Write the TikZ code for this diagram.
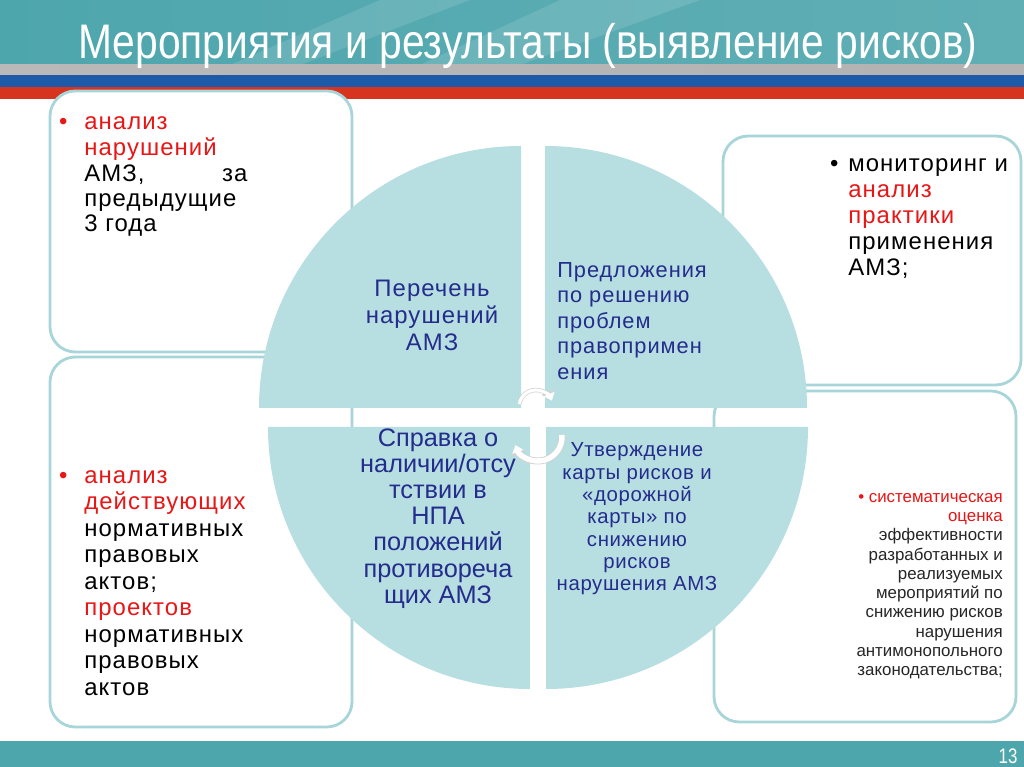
\documentclass[tikz,border=0pt]{standalone}
\usepackage{fontspec}
\setmainfont{Liberation Sans}
\newfontfamily\trk[LetterSpace=4.5]{Liberation Sans}
\newfontfamily\trklight[LetterSpace=3]{Liberation Sans}
\usetikzlibrary{arrows.meta}

\definecolor{quadfill}{RGB}{183,222,225}
\definecolor{boxline}{RGB}{168,213,217}
\definecolor{qblue}{RGB}{36,44,140}
\definecolor{hot}{RGB}{232,22,22}
\definecolor{tealdark}{RGB}{78,166,173}
\definecolor{teallight}{RGB}{170,219,222}
\definecolor{flagblue}{RGB}{30,90,170}
\definecolor{flagred}{RGB}{214,52,30}

\tikzset{
  infobox/.style={draw=boxline, line width=2pt, fill=white, rounded corners=18pt},
  quarter/.style={fill=quadfill},
  qlabel/.style={text=qblue, inner sep=0pt},
  boxtext/.style={inner sep=0pt, align=left, anchor=north west},
  cycarrow/.style={draw=white, -{Triangle[width=8pt,length=5pt]}},
  cycshadow/.style={draw=gray!35, -{Triangle[width=10pt,length=6.5pt]}},
}

\begin{document}
\begin{tikzpicture}[x=0.025cm, y=0.025cm]
    \useasboundingbox (0,0) rectangle (1024,767);

    % header and footer
    \shade[left color=tealdark, middle color=teallight, right color=tealdark!90] (0,702) rectangle (1024,767);
    \fill[white, opacity=0.12] (380,767) -- (470,767) -- (300,702) -- (230,702) -- cycle;
    \fill[white, opacity=0.12] (560,767) -- (700,767) -- (520,702) -- (420,702) -- cycle;
    \shade[left color=gray!55, middle color=gray!15, right color=gray!60] (0,691) rectangle (1024,702);
    \shade[left color=flagblue, middle color=flagblue!70!white, right color=flagblue] (0,679) rectangle (1024,691);
    \shade[left color=flagred, middle color=flagred!75!white, right color=flagred] (0,668) rectangle (1024,679);
    \shade[left color=tealdark, middle color=teallight, right color=tealdark] (0,0) rectangle (1024,25);

    \node[text=white, font=\fontsize{34.5}{40}\selectfont] (title) at (528,721)
        {\scalebox{0.84}[1]{Мероприятия и результаты (выявление рисков)}};
    \node[text=white, font=\fontsize{15}{16}\selectfont] (pagenum) at (1008,11) {\scalebox{0.8}[1]{13}};

    % side boxes
    \draw[infobox] (50,415) rectangle (352,676);
    \draw[infobox] (50,40) rectangle (352,410);
    \draw[infobox] (723,382) rectangle (1021,631);
    \draw[infobox] (714,45) rectangle (1016,376);

    % circle in four quarters
    \fill[quarter] (521,359) -- ++(-262,0) arc[start angle=180, end angle=90, radius=262] -- cycle;
    \fill[quarter] (545,359) -- ++(0,262) arc[start angle=90, end angle=0, radius=262] -- cycle;
    \fill[quarter] (530,340) -- ++(-262,0) arc[start angle=180, end angle=270, radius=262] -- cycle;
    \fill[quarter] (546,340) -- ++(262,0) arc[start angle=0, end angle=-90, radius=262] -- cycle;

    \coordinate (hubtop) at (536,360);
    \coordinate (hubbot) at (538,330);
    \draw[cycshadow, line width=3.2pt] (hubtop) ++(170:17) arc[start angle=170, end angle=22, radius=17];
    \draw[cycarrow, line width=2.2pt] (hubtop) ++(170:17) arc[start angle=170, end angle=22, radius=17];
    \draw[cycshadow, line width=5pt] (hubbot) ++(5:24) arc[start angle=5, end angle=-160, radius=24];
    \draw[cycarrow, line width=3.8pt] (hubbot) ++(5:24) arc[start angle=5, end angle=-160, radius=24];

    % quarter texts
    \node[qlabel, align=center, font=\trk\fontsize{17}{19.2}\selectfont] (perechen) at (432,452)
        {Перечень\\нарушений\\АМЗ};
    \node[qlabel, align=left, anchor=west, font=\trk\fontsize{15.5}{18.1}\selectfont] (predl) at (557,446)
        {Предложения\\по решению\\проблем\\правопримен\\ения};
    \node[qlabel, align=center, font=\fontsize{18}{18.6}\selectfont] (spravka) at (438,248.5)
        {Справка о\\наличии/отсу\\тствии в\\НПА\\положений\\противореча\\щих АМЗ};
    \node[qlabel, align=center, font=\trklight\fontsize{14.5}{15.9}\selectfont] (karta) at (637,248)
        {Утверждение\\карты рисков и\\«дорожной\\карты» по\\снижению\\рисков\\нарушения АМЗ};

    % box texts
    \node[boxtext, font=\trk\fontsize{17}{17.9}\selectfont] (tlnote) at (84,655.6)
        {\strut\llap{\textcolor{hot}{\textbullet}\hspace{12pt}}\textcolor{hot}{анализ}\\
         \textcolor{hot}{нарушений}\\
         \makebox[116pt]{АМЗ,\hfill за}\\
         предыдущие\\
         3 года};
    \node[boxtext, font=\trk\fontsize{17}{18.85}\selectfont] (blnote) at (84,302.5)
        {\strut\llap{\textcolor{hot}{\textbullet}\hspace{12pt}}\textcolor{hot}{анализ}\\
         \textcolor{hot}{действующих}\\
         нормативных\\
         правовых\\
         актов;\\
         \textcolor{hot}{проектов}\\
         нормативных\\
         правовых\\
         актов};
    \node[boxtext, font=\trk\fontsize{17}{18.5}\selectfont] (trnote) at (848,614.2)
        {\strut\llap{\textbullet\hspace{7pt}}мониторинг и\\
         \textcolor{hot}{анализ}\\
         \textcolor{hot}{практики}\\
         применения\\
         АМЗ;};
    \node[inner sep=0pt, align=right, anchor=north east, text=black!85, font=\fontsize{12}{13.7}\selectfont] (brnote) at (1003,278.4)
        {\strut\textcolor{hot}{\textbullet\ систематическая}\\
         \textcolor{hot}{оценка}\\
         эффективности\\
         разработанных и\\
         реализуемых\\
         мероприятий по\\
         снижению рисков\\
         нарушения\\
         антимонопольного\\
         законодательства;};
\end{tikzpicture}
\end{document}
